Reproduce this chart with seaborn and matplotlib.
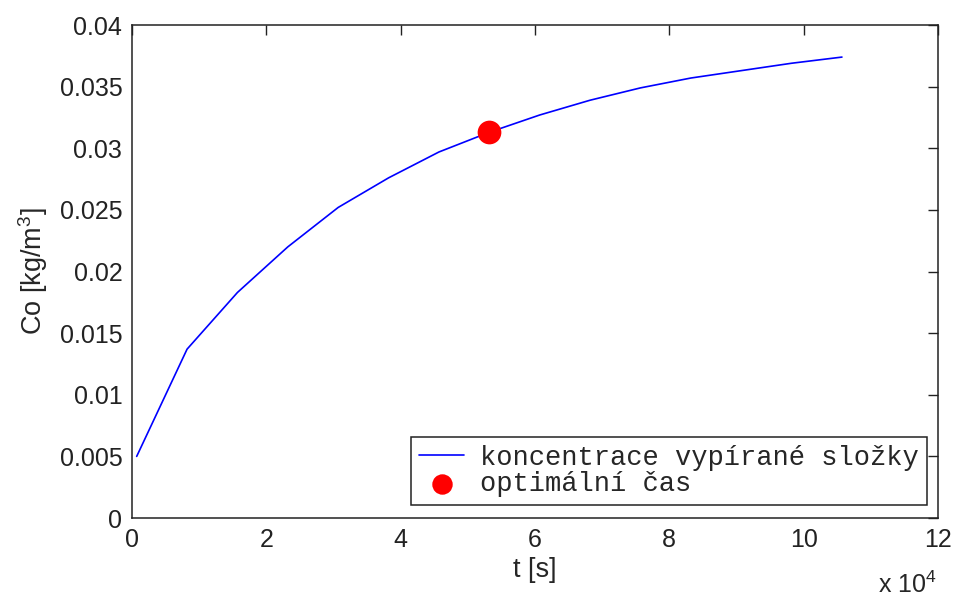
import matplotlib
matplotlib.use('Agg')
import matplotlib.pyplot as plt
from matplotlib.ticker import FuncFormatter, MultipleLocator
import seaborn as sns

# time [s] and concentration of the washed-out component [kg/m3]
t_s = [700, 8200, 15700, 23200, 30700, 38200, 45700, 53200,
       60700, 68200, 75700, 83200, 90700, 98200, 105700]
co = [0.0050, 0.0137, 0.0183, 0.0220, 0.0252, 0.0276, 0.0297, 0.0313,
      0.0327, 0.0339, 0.0349, 0.0357, 0.0363, 0.0369, 0.0374]

# optimal time
t_opt = [53200]
co_opt = [0.0313]

line_label = 'koncentrace vypírané složky'
point_label = 'optimální čas'

sns.set_style('white')
plt.rcParams['font.family'] = ['Liberation Sans', 'DejaVu Sans']
plt.rcParams['mathtext.fontset'] = 'custom'
plt.rcParams['mathtext.rm'] = 'Liberation Sans'
plt.rcParams['mathtext.it'] = 'Liberation Sans:italic'

fig = plt.figure(figsize=(9.55, 5.99), dpi=100)
ax = fig.add_axes([0.1382, 0.1352, 0.8440, 0.8230])

sns.lineplot(x=t_s, y=co, ax=ax, color='#0000ff', lw=1.2, label=line_label)
sns.scatterplot(x=t_opt, y=co_opt, ax=ax, color='#ff0000', edgecolor='#ff0000',
                s=250, marker='o', label=point_label, zorder=3)

ax.set_xlim(0, 120000)
ax.set_ylim(0, 0.04)
ax.xaxis.set_major_locator(MultipleLocator(20000))
ax.yaxis.set_major_locator(MultipleLocator(0.005))
ax.xaxis.set_major_formatter(FuncFormatter(lambda v, p: '{:g}'.format(v / 1e4)))
ax.yaxis.set_major_formatter(FuncFormatter(lambda v, p: '{:g}'.format(round(v, 4))))

ax.tick_params(direction='in', length=7, width=1, top=True, right=True,
               labelsize=18, pad=7, colors='#222222')
for sp in ax.spines.values():
    sp.set_visible(True)
    sp.set_color('#222222')
    sp.set_linewidth(1.1)

ax.set_xlabel('t [s]', fontsize=19.5, labelpad=4)
ax.set_ylabel('Co [kg/m$^3$]', fontsize=19.5, labelpad=7)

fig.text(0.981, 1 - 593 / 599, 'x 10$^4$', ha='right', va='baseline', fontsize=18)

leg = ax.legend(loc='lower right', bbox_to_anchor=(0.9864, 0.0264), borderaxespad=0,
                frameon=True, fancybox=False, framealpha=1, edgecolor='#222222',
                prop={'family': 'Liberation Mono', 'size': 19.5},
                handlelength=1.65, handletextpad=0.6, borderpad=0.3,
                labelspacing=0.0, markerscale=0.85)
leg.get_frame().set_linewidth(1.1)

fig.savefig('out.png', dpi=100, facecolor='white')
